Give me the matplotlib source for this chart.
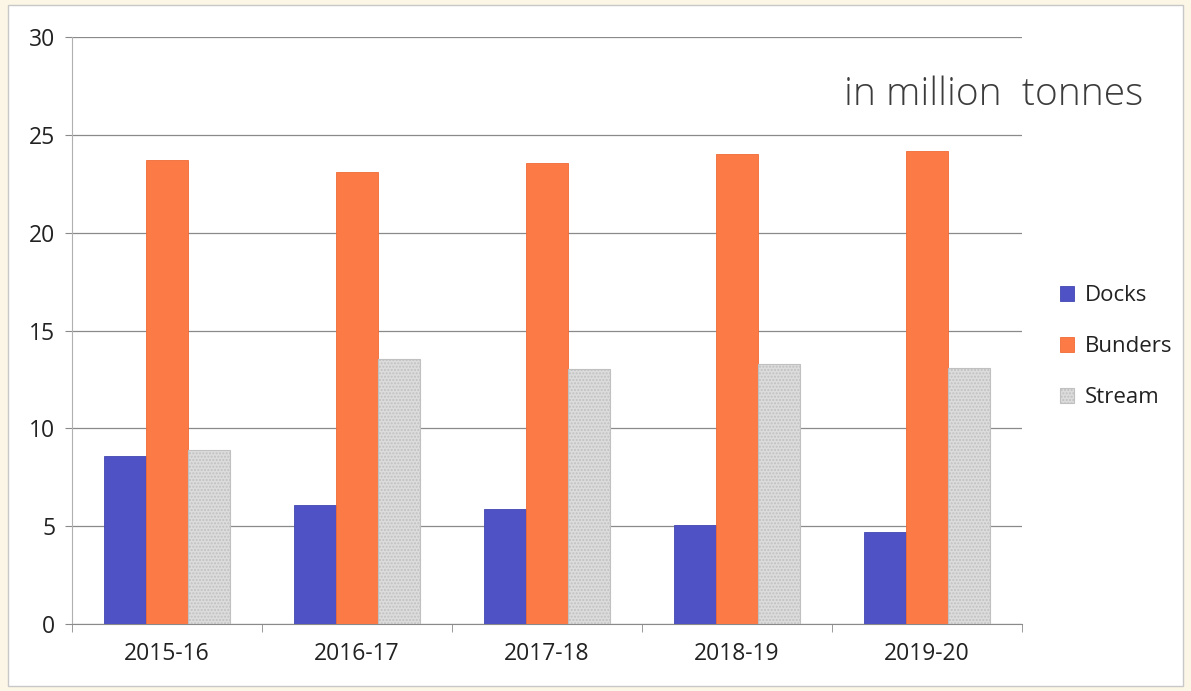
import matplotlib
matplotlib.use("Agg")
import matplotlib.pyplot as plt
import numpy as np
from matplotlib.patches import Rectangle

categories = ["2015-16", "2016-17", "2017-18", "2018-19", "2019-20"]
docks = [8.6, 6.1, 5.9, 5.05, 4.7]
bunders = [23.7, 23.1, 23.55, 24.0, 24.15]
stream = [8.9, 13.55, 13.05, 13.3, 13.1]

plt.rcParams['font.family'] = ['Open Sans', 'DejaVu Sans']
plt.rcParams['hatch.color'] = '#aaaaaa'
plt.rcParams['hatch.linewidth'] = 1.0

fig = plt.figure(figsize=(11.91, 6.91), dpi=100)
fig.patch.set_facecolor('#fbf6e6')
panel = Rectangle((8/1191, 1-686/691), (1183-8)/1191, (686-5)/691, transform=fig.transFigure,
                  facecolor='white', edgecolor='#c8c8c8', linewidth=1, zorder=-10)
fig.patches.append(panel)

ax = fig.add_axes([72/1191, 1-624/691, 950/1191, 587/691])
ax.set_zorder(1)
ax.set_facecolor('none')
x = np.arange(len(categories))
w = 0.22
ax.bar(x - w, docks, w, color='#4f52c4', edgecolor='#4246b0', linewidth=0.6, label='Docks', zorder=3)
ax.bar(x, bunders, w, color='#fb7a45', edgecolor='#f06a35', linewidth=0.6, label='Bunders', zorder=3)
ax.bar(x + w, stream, w, color='#dcdcdc', edgecolor='#c0c0c0', linewidth=0.8, hatch='.....', label='Stream', zorder=3)

ax.set_xlim(-0.5, 4.5)
ax.set_ylim(0, 30)
ax.set_yticks([0, 5, 10, 15, 20, 25, 30])
ax.set_xticks(x)
ax.set_xticklabels(categories)
ax.grid(axis='y', color='#8a8a8a', linewidth=0.9, zorder=0)
for s in ['top', 'right']:
    ax.spines[s].set_visible(False)
ax.spines['left'].set_color('#b0b0b0')
ax.spines['bottom'].set_color('#8a8a8a')
ax.tick_params(axis='y', length=5, color='#8a8a8a', labelsize=16.5, pad=7, labelcolor='#222222')
ax.tick_params(axis='x', length=0, labelsize=16.5, pad=13, labelcolor='#222222')
ax.set_xticks(np.arange(-0.5, 5, 1), minor=True)
ax.tick_params(axis='x', which='minor', length=6, direction='out', color='#8a8a8a')

fig.text(1143/1191, 1-95/691, "in million  tonnes", fontsize=28, fontweight='light',
         color='#3c3c3c', ha='right', va='center')

leg = ax.legend(loc='center left', bbox_to_anchor=(1040/1191, 1-347/691), bbox_transform=fig.transFigure,
                frameon=False, fontsize=16, handlelength=0.65, handleheight=0.65, labelspacing=1.35,
                handletextpad=0.45)
for t in leg.get_texts():
    t.set_color('#222222')

fig.savefig("out.png", dpi=100)
